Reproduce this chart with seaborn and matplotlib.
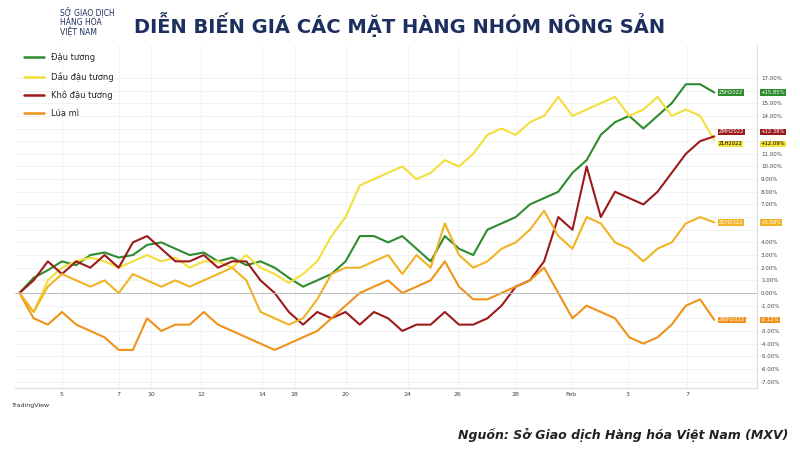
import numpy as np
import pandas as pd
import seaborn as sns
import matplotlib.pyplot as plt

# % change series, evenly spaced sessions
dau_tuong = [0, 1.2, 1.8, 2.5, 2.2, 3.0, 3.2, 2.8, 3.0, 3.8, 4.0, 3.5, 3.0, 3.2, 2.5, 2.8, 2.2, 2.5, 2.0, 1.2,
             0.5, 1.0, 1.5, 2.5, 4.5, 4.5, 4.0, 4.5, 3.5, 2.5, 4.5, 3.5, 3.0, 5.0, 5.5, 6.0, 7.0, 7.5, 8.0, 9.5,
             10.5, 12.5, 13.5, 14.0, 13.0, 14.0, 15.0, 16.5, 16.5, 15.85]
dau_dau_tuong = [0, -1.5, 1.0, 2.0, 2.5, 2.8, 2.5, 2.0, 2.5, 3.0, 2.5, 2.8, 2.0, 2.5, 2.5, 2.0, 3.0, 2.0, 1.5, 0.8,
                 1.5, 2.5, 4.5, 6.0, 8.5, 9.0, 9.5, 10.0, 9.0, 9.5, 10.5, 10.0, 11.0, 12.5, 13.0, 12.5, 13.5, 14.0, 15.5, 14.0,
                 14.5, 15.0, 15.5, 14.0, 14.5, 15.5, 14.0, 14.5, 14.0, 12.09]
kho_dau_tuong = [0, 1.0, 2.5, 1.5, 2.5, 2.0, 3.0, 2.0, 4.0, 4.5, 3.5, 2.5, 2.5, 3.0, 2.0, 2.5, 2.5, 1.0, 0.0, -1.5,
                 -2.5, -1.5, -2.0, -1.5, -2.5, -1.5, -2.0, -3.0, -2.5, -2.5, -1.5, -2.5, -2.5, -2.0, -1.0, 0.5, 1.0, 2.5, 6.0, 5.0,
                 10.0, 6.0, 8.0, 7.5, 7.0, 8.0, 9.5, 11.0, 12.0, 12.38]
ngo = [0, -1.5, 0.5, 1.5, 1.0, 0.5, 1.0, 0.0, 1.5, 1.0, 0.5, 1.0, 0.5, 1.0, 1.5, 2.0, 1.0, -1.5, -2.0, -2.5,
       -2.0, -0.5, 1.5, 2.0, 2.0, 2.5, 3.0, 1.5, 3.0, 2.0, 5.5, 3.0, 2.0, 2.5, 3.5, 4.0, 5.0, 6.5, 4.5, 3.5,
       6.0, 5.5, 4.0, 3.5, 2.5, 3.5, 4.0, 5.5, 6.0, 5.58]
lua_mi = [0, -2.0, -2.5, -1.5, -2.5, -3.0, -3.5, -4.5, -4.5, -2.0, -3.0, -2.5, -2.5, -1.5, -2.5, -3.0, -3.5, -4.0, -4.5, -4.0,
          -3.5, -3.0, -2.0, -1.0, 0.0, 0.5, 1.0, 0.0, 0.5, 1.0, 2.5, 0.5, -0.5, -0.5, 0.0, 0.5, 1.0, 2.0, 0.0, -2.0,
          -1.0, -1.5, -2.0, -3.5, -4.0, -3.5, -2.5, -1.0, -0.5, -2.12]

tick_pos = [3.0, 7.0, 9.3, 12.8, 17.1, 19.4, 23.0, 27.4, 30.9, 35.0, 38.9, 42.9, 47.1]
tick_labels = ["5", "7", "10", "12", "14", "18", "20", "24", "26", "28", "Feb", "3", "7"]

# name, values, colour, contract code, label offset (in %)
series = [
    ("Đậu tương", dau_tuong, "#2e8b2e", "ZSH2022", 0.0),
    ("Dầu đậu tương", dau_dau_tuong, "#f3df3a", "ZLH2022", -0.3),
    ("Khô đậu tương", kho_dau_tuong, "#9b1b1b", "ZMH2022", 0.35),
    ("Lúa mì", lua_mi, "#f0921a", "ZWH2022", 0.0),
    (None, ngo, "#f0b323", "ZCH2022", 0.0),
]

sns.set_style("white")
plt.rcParams['font.family'] = ['DejaVu Sans']
fig = plt.figure(figsize=(8, 4.5), dpi=100)
ax = fig.add_axes([0.019, 0.138, 0.927, 0.762])

label_levels = []
for name, vals, color, code, off in series:
    df = pd.DataFrame({"x": np.arange(len(vals)), "y": vals})
    sns.lineplot(data=df, x="x", y="y", color=color, lw=1.5, ax=ax, label=name if name else "_nolegend_")
    last = vals[-1]
    label_levels.append(last + off)
    tc = "black" if color == "#f3df3a" else "white"
    ax.text(49.3, last + off, code, fontsize=3.8, color=tc, va="center", ha="left",
            bbox=dict(boxstyle="square,pad=0.15", fc=color, ec="none"))
    ax.text(1.005, last + off, f"{last:+.2f}%", fontsize=3.8, color=tc, va="center", ha="left",
            transform=ax.get_yaxis_transform(),
            bbox=dict(boxstyle="square,pad=0.15", fc=color, ec="none"), clip_on=False)

ax.axhline(0, color="#bbbbbb", lw=0.7)
ax.set_xlim(-0.3, 52)
ax.set_ylim(-7.5, 19.6)
ax.yaxis.tick_right()
yt = list(range(-7, 18))
ax.set_yticks(yt)
# hide tick labels covered by the last-value boxes, like TradingView does
ax.set_yticklabels(["" if min(abs(v - l) for l in label_levels) < 0.6 else f"{v:.2f}%" for v in yt],
                   fontsize=4, color="#444444")
ax.set_xticks(tick_pos)
ax.set_xticklabels(tick_labels, fontsize=4.5, color="#444444")
ax.tick_params(length=0, pad=3)
ax.set_xlabel("")
ax.set_ylabel("")
ax.grid(True, color="#f0f0f0", lw=0.6)
for s in ["top", "left"]:
    ax.spines[s].set_visible(False)
for s in ["bottom", "right"]:
    ax.spines[s].set_color("#dddddd")

leg = ax.legend(loc="upper left", frameon=False, fontsize=6, handlelength=2.5,
                labelspacing=1.1, borderaxespad=0.6)
for line in leg.get_lines():
    line.set_linewidth(1.8)

fig.text(0.5, 0.945, "DIỄN BIẾN GIÁ CÁC MẶT HÀNG NHÓM NÔNG SẢN", fontsize=14, fontweight="bold",
         color="#1c2f5e", ha="center", va="center")
fig.text(0.075, 0.95, "SỞ GIAO DỊCH\nHÀNG HÓA\nVIỆT NAM", fontsize=5.5, color="#1c2f5e",
         ha="left", va="center", linespacing=1.0)
fig.text(0.015, 0.095, "TradingView", fontsize=4.5, color="#333333")
fig.text(0.985, 0.025, "Nguồn: Sở Giao dịch Hàng hóa Việt Nam (MXV)", fontsize=9, style="italic",
         fontweight="bold", color="#222222", ha="right")

fig.savefig("out.png", dpi=100)
